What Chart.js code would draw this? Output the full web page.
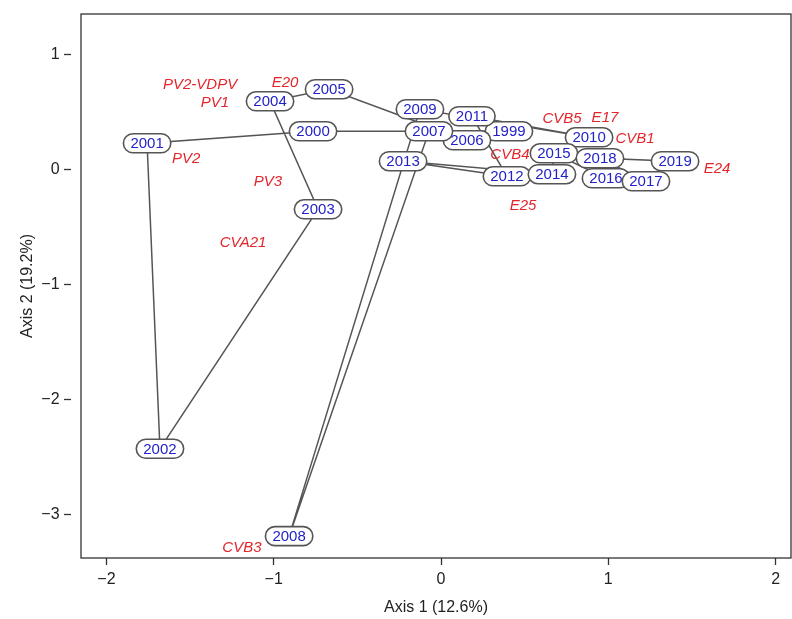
<!DOCTYPE html>
<html>
<head>
<meta charset="utf-8">
<script src="https://cdn.jsdelivr.net/npm/chart.js@4/dist/chart.umd.min.js"></script>
<style>
  html, body { margin: 0; padding: 0; background: #fff; }
  #wrap { width: 792px; height: 619px; }
</style>
</head>
<body>
<div id="wrap"><canvas id="chart1"></canvas></div>
<script>
// years (site scores), in trajectory order
const years = ["1999", "2000", "2001", "2002", "2003", "2004", "2005", "2006", "2007", "2008", "2009",
    "2010", "2011", "2012", "2013", "2014", "2015", "2016", "2017", "2018", "2019"];
const yearX = [0.406, -0.765, -1.757, -1.68, -0.735, -1.022, -0.669, 0.155, -0.072, -0.908, -0.126,
    0.885, 0.185, 0.394, -0.227, 0.663, 0.675, 0.986, 1.225, 0.950, 1.399];
const yearY = [0.330, 0.330, 0.226, -2.43, -0.348, 0.591, 0.696, 0.252, 0.330, -3.19, 0.522,
    0.278, 0.461, -0.061, 0.070, -0.043, 0.139, -0.078, -0.104, 0.096, 0.070];

// virus types (species scores)
const types = ["PV2-VDPV", "PV1", "E20", "PV2", "PV3", "CVA21", "CVB5", "E17", "CVB1", "CVB4", "E24", "E25", "CVB3"];
const typeX = [-1.44, -1.351, -0.932, -1.524, -1.034, -1.183, 0.723, 0.980, 1.160, 0.412, 1.650, 0.490, -1.19];
const typeY = [0.73, 0.574, 0.748, 0.087, -0.113, -0.643, 0.435, 0.443, 0.261, 0.122, 0.0, -0.322, -3.29];

const xTicks = [-2, -1, 0, 1, 2];
const yTicks = [-3, -2, -1, 0, 1];

const FONT = "'Liberation Sans', Arial, sans-serif";

const labelPlugin = {
    id: "labelPlugin",
    afterDatasetsDraw(chart) {
        const ctx = chart.ctx;
        const xs = chart.scales.x, ys = chart.scales.y;
        const a = chart.chartArea;
        ctx.save();
        ctx.beginPath();
        ctx.rect(a.left, a.top, a.right - a.left, a.bottom - a.top);
        ctx.clip();
        // red italic type names
        ctx.font = "italic 15px " + FONT;
        ctx.fillStyle = "#e3262c";
        ctx.textAlign = "center";
        ctx.textBaseline = "middle";
        types.forEach(function (t, i) {
            ctx.fillText(t, xs.getPixelForValue(typeX[i]), ys.getPixelForValue(typeY[i]));
        });
        // year boxes
        ctx.font = "15px " + FONT;
        years.forEach(function (t, i) {
            const px = xs.getPixelForValue(yearX[i]);
            const py = ys.getPixelForValue(yearY[i]);
            const w = ctx.measureText(t).width + 14;
            const h = 19;
            ctx.beginPath();
            ctx.roundRect(px - w / 2, py - h / 2, w, h, 9.5);
            ctx.fillStyle = "#ffffff";
            ctx.fill();
            ctx.lineWidth = 1.6;
            ctx.strokeStyle = "#555555";
            ctx.stroke();
            ctx.fillStyle = "#2222c8";
            ctx.fillText(t, px, py + 1);
        });
        ctx.restore();
        // frame
        ctx.save();
        ctx.strokeStyle = "#333";
        ctx.lineWidth = 1.3;
        ctx.strokeRect(a.left, a.top, a.right - a.left, a.bottom - a.top);
        ctx.restore();
    },
};

const ctx = document.getElementById("chart1").getContext("2d");
const myChart = new Chart(ctx, {
    type: "scatter",
    data: {
        datasets: [
            {
                label: "years",
                data: years.map(function (y, i) { return { x: yearX[i], y: yearY[i] }; }),
                showLine: true,
                borderColor: "#555555",
                borderWidth: 1.5,
                pointRadius: 0,
                tension: 0,
            },
        ],
    },
    options: {
        responsive: true,
        maintainAspectRatio: false,
        animation: false,
        layout: { padding: { top: 0, right: 1, left: 0, bottom: 0 } },
        plugins: { legend: { display: false }, tooltip: { enabled: false } },
        scales: {
            x: {
                type: "linear",
                min: -2.152,
                max: 2.092,
                afterBuildTicks(scale) { scale.ticks = xTicks.map(function (v) { return { value: v }; }); },
                afterFit(scale) { scale.height = 61; },
                grid: { drawOnChartArea: false, drawTicks: true, tickLength: 7, color: "#333", tickWidth: 1.3 },
                border: { display: false },
                ticks: {
                    color: "#222",
                    font: { family: FONT, size: 16 },
                    padding: 5,
                    callback: function (v) { return String(v).replace("-", "\u2212"); },
                },
                title: {
                    display: true,
                    text: "Axis 1 (12.6%)",
                    color: "#222",
                    font: { family: FONT, size: 16 },
                    padding: { top: 0, bottom: 2 },
                },
            },
            y: {
                type: "linear",
                min: -3.38,
                max: 1.35,
                afterBuildTicks(scale) { scale.ticks = yTicks.map(function (v) { return { value: v }; }); },
                afterFit(scale) { scale.width = 81; },
                grid: {
                    drawOnChartArea: false, drawTicks: true, tickLength: 17,
                    color: "#333", tickWidth: 1.3, tickBorderDash: [7, 40],
                },
                border: { display: false },
                ticks: {
                    color: "#222",
                    font: { family: FONT, size: 16 },
                    padding: 4.4,
                    callback: function (v) { return String(v).replace("-", "\u2212"); },
                },
                title: {
                    display: true,
                    text: "Axis 2 (19.2%)",
                    color: "#222",
                    font: { family: FONT, size: 16 },
                    padding: { top: 18, bottom: 0 },
                },
            },
        },
    },
    plugins: [labelPlugin],
});
</script>
</body>
</html>
